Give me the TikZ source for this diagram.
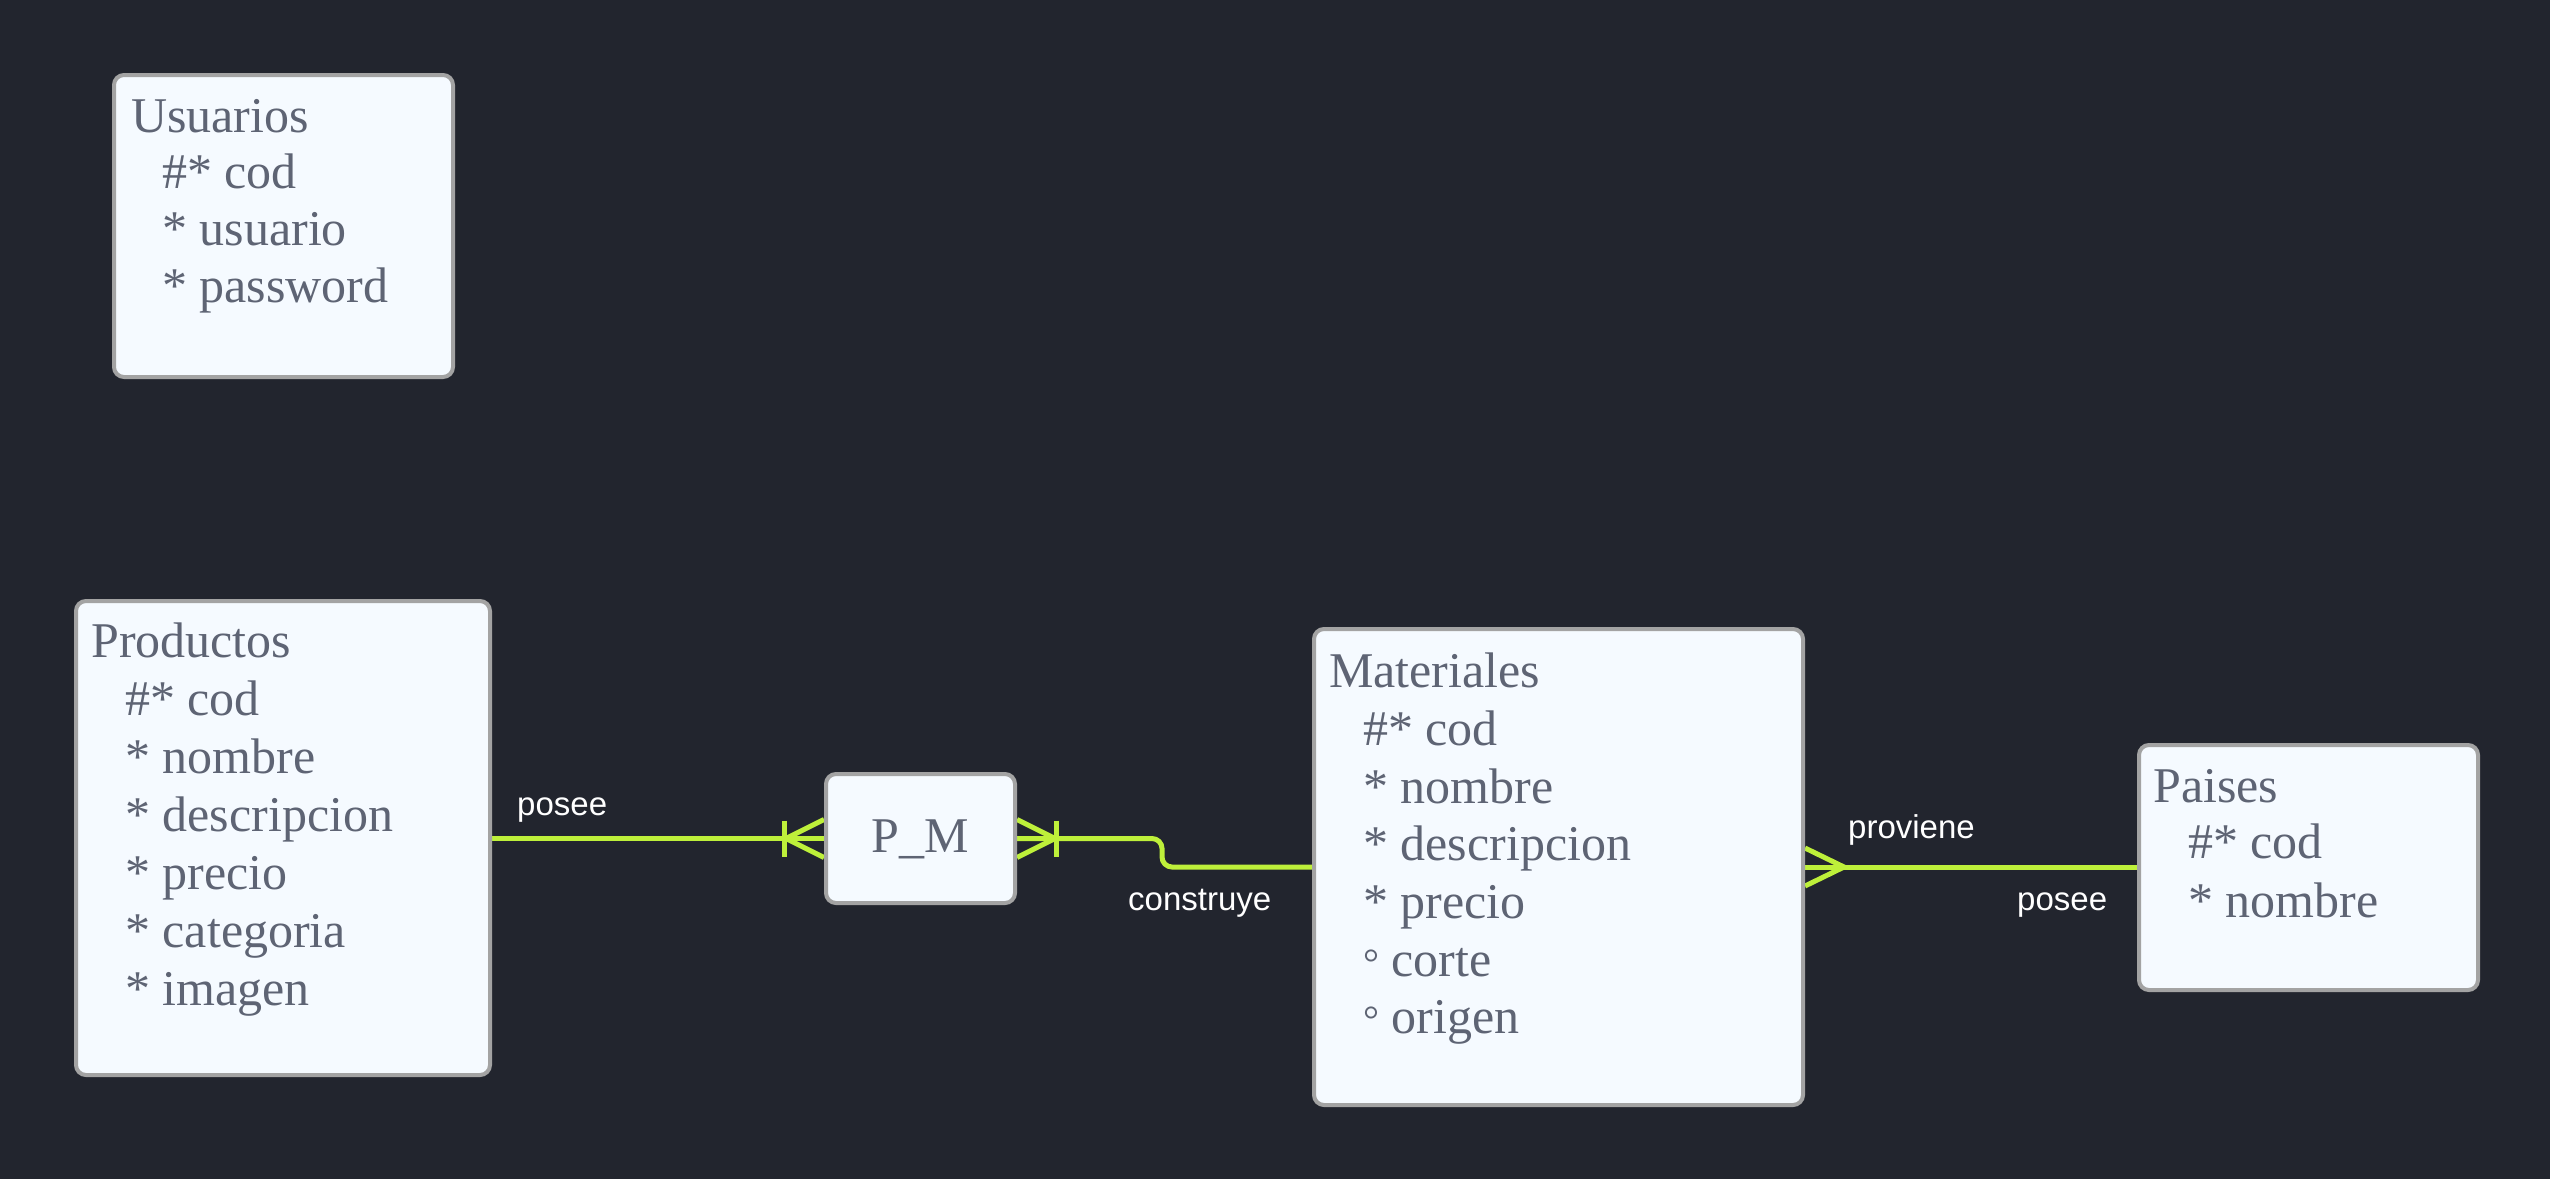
\documentclass[tikz,border=0pt]{standalone}
\usepackage{fontspec}
\setmainfont{Liberation Serif}
\newfontfamily\lblfont{Liberation Sans}
\usetikzlibrary{calc}
\definecolor{bgc}{HTML}{22252E}
\definecolor{boxfill}{HTML}{F5FAFF}
\definecolor{boxline}{HTML}{A3A3A3}
\definecolor{txtc}{HTML}{5E6474}
\definecolor{linec}{HTML}{BEF03A}
\pgfdeclarelayer{bglayer}
\pgfdeclarelayer{back}
\pgfsetlayers{bglayer,back,main}
\begin{document}
\begin{tikzpicture}[x=1pt,y=-1pt,
  entity/.style={draw=boxline, fill=boxfill, line width=4pt, rounded corners=10pt, anchor=north west, inner sep=0pt},
  ttl/.style={anchor=base west, text=txtc, font=\fontsize{50}{60}\selectfont, inner sep=0pt},
  attr/.style={ttl},
  conn/.style={draw=linec, line width=5pt},
  lbl/.style={anchor=base west, text=white, font=\lblfont\fontsize{33}{40}\selectfont, inner sep=0pt}]

\begin{pgfonlayer}{bglayer}
\fill[bgc] (0,0) rectangle (2550,1179);
\end{pgfonlayer}
\useasboundingbox (0,0) rectangle (2550,1179);

% Usuarios
\node[entity, minimum width=339pt, minimum height=302pt] (usu) at (112,73) {};
\node[ttl] (usu-t) at (131,132) {Usuarios};
\node[attr] (usu-1) at (162,188) {\#* cod};
\node[attr] (usu-2) at (162,245) {* usuario};
\node[attr] (usu-3) at (162,302) {* password};

% Productos
\node[entity, minimum width=414pt, minimum height=474pt] (prod) at (74,599) {};
\node[ttl] (prod-t) at (91,657) {Productos};
\node[attr] (prod-1) at (125,715) {\#* cod};
\node[attr] (prod-2) at (125,773) {* nombre};
\node[attr] (prod-3) at (125,831) {* descripcion};
\node[attr] (prod-4) at (125,889) {* precio};
\node[attr] (prod-5) at (125,947) {* categoria};
\node[attr] (prod-6) at (125,1005) {* imagen};

% P_M
\node[entity, minimum width=189pt, minimum height=129pt] (pm) at (824,772) {};
\node[text=txtc, font=\fontsize{50}{60}\selectfont, inner sep=0pt, anchor=base] (pm-t) at ($(pm.center)+(0,14)$) {P\_M};

% Materiales
\node[entity, minimum width=489pt, minimum height=476pt] (mat) at (1312,627) {};
\node[ttl] (mat-t) at (1329,687) {Materiales};
\node[attr] (mat-1) at (1363,745) {\#* cod};
\node[attr] (mat-2) at (1363,803) {* nombre};
\node[attr] (mat-3) at (1363,860) {* descripcion};
\node[attr] (mat-4) at (1363,918) {* precio};
\node[attr] (mat-5) at (1363,976) {{\fontsize{40}{60}\selectfont °} corte};
\node[attr] (mat-6) at (1363,1033) {{\fontsize{40}{60}\selectfont °} origen};

% Paises
\node[entity, minimum width=339pt, minimum height=245pt] (pai) at (2137,743) {};
\node[ttl] (pai-t) at (2153,802) {Paises};
\node[attr] (pai-1) at (2188,858) {\#* cod};
\node[attr] (pai-2) at (2188,917) {* nombre};

% connectors
\begin{pgfonlayer}{back}
\draw[conn] (pm.west) -- (pm.west -| prod.east);
\draw[conn] ($(pm.west)+(-40,-18)$) -- ($(pm.west)+(-40,18)$);
\draw[conn] ($(pm.west)+(0,-19)$) -- ($(pm.west)+(-38,0)$) -- ($(pm.west)+(0,19)$);

\draw[conn, rounded corners=10pt] (pm.east) -- ++(145,0) |- (mat.west);
\draw[conn] ($(pm.east)+(39,-18)$) -- ($(pm.east)+(39,18)$);
\draw[conn] ($(pm.east)+(0,-19)$) -- ($(pm.east)+(38,0)$) -- ($(pm.east)+(0,19)$);

\draw[conn] (mat.east) -- (mat.east -| pai.west);
\draw[conn] ($(mat.east)+(0,-19)$) -- ($(mat.east)+(39,0)$) -- ($(mat.east)+(0,19)$);
\end{pgfonlayer}

% labels
\node[lbl] (l-posee1) at (517,815) {posee};
\node[lbl] (l-construye) at (1128,910) {construye};
\node[lbl] (l-proviene) at (1848,838) {proviene};
\node[lbl] (l-posee2) at (2017,910) {posee};
\end{tikzpicture}
\end{document}
